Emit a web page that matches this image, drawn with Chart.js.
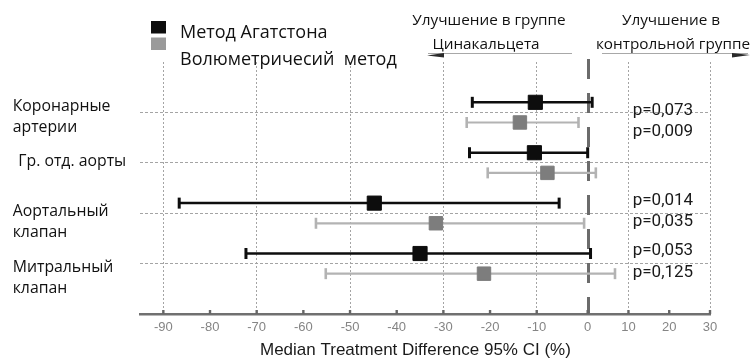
<!DOCTYPE html>
<html lang="ru">
<head>
<meta charset="utf-8">
<title>Median Treatment Difference</title>
<script src="https://cdn.jsdelivr.net/npm/chart.js@4.4.1/dist/chart.umd.min.js"></script>
<style>
  html, body { margin: 0; padding: 0; background: #ffffff; }
  #wrap { position: relative; width: 755px; height: 358px; }
</style>
</head>
<body>
<div id="wrap"><canvas id="forest" width="755" height="358"></canvas></div>
<script>
// ---- data ----
const categoryLines = [['Коронарные', 'артерии'], ['Гр. отд. аорты'], ['Аортальный', 'клапан'], ['Митральный', 'клапан']];
const seriesNames = ['Метод Агатстона', 'Волюметричесий  метод'];

const agatstonMedian = [-10.3, -10.5, -44.8, -35.0];
const agatstonLow    = [-23.8, -24.4, -86.6, -72.3];
const agatstonHigh   = [1.1, 0.0, -5.6, 0.7];

const volumeMedian = [-13.6, -7.9, -31.6, -21.3];
const volumeLow    = [-25.0, -20.5, -57.3, -55.2];
const volumeHigh   = [-1.8, 2.0, -0.7, 6.7];

const agatstonP = ['p=0,073', null, 'p=0,014', 'p=0,053'];
const volumeP   = ['p=0,009', null, 'p=0,035', 'p=0,125'];

const xTicks = [-90, -80, -70, -60, -50, -40, -30, -20, -10, 0, 10, 20, 30];
const xAxisTitle = 'Median Treatment Difference 95% CI (%)';
const headerLeft = ['Улучшение в группе', 'Цинакальцета'];
const headerRight = ['Улучшение в', 'контрольной группе'];

// ---- layout / style ----
const X_MIN = -95, X_MAX = 30;
// the axis is drawn with a break: [value, share of the axis width]
const X_BREAKS = [[-95, 0], [-10, 0.696], [0, 0.7854], [30, 1]];
const ROW_SHIFT = 0.2;
const BLACK = '#0d0d0d';
const GRAY_LINE = '#b3b3b3';
const GRAY_BOX = '#7d7d7d';
const GRAY_KEY = '#9a9a9a';
const RU_FONT = '"Open Sans", "Noto Sans", sans-serif';

// piecewise linear axis
class BrokenLinearScale extends Chart.LinearScale {
  static id = 'brokenLinear';
  _toDecimal(value) {
    const b = X_BREAKS;
    let i = 0;
    while (i < b.length - 2 && value > b[i + 1][0]) i++;
    const [v0, f0] = b[i], [v1, f1] = b[i + 1];
    return f0 + (value - v0) / (v1 - v0) * (f1 - f0);
  }
  getPixelForValue(value) {
    if (value === null || value === undefined || isNaN(value)) return NaN;
    return this.getPixelForDecimal(this._toDecimal(value));
  }
  getValueForPixel(pixel) {
    const f = this.getDecimalForPixel(pixel);
    const b = X_BREAKS;
    let i = 0;
    while (i < b.length - 2 && f > b[i + 1][1]) i++;
    const [v0, f0] = b[i], [v1, f1] = b[i + 1];
    return v0 + (f - f0) / (f1 - f0) * (v1 - v0);
  }
}
Chart.register(BrokenLinearScale);

function ciDataset(lo, hi, row, color, lineW, capW) {
  return {
    type: 'scatter',
    data: [{ x: lo, y: row }, { x: hi, y: row }],
    showLine: true,
    borderColor: color,
    borderWidth: lineW,
    pointStyle: 'line',
    pointRotation: 90,
    pointRadius: 5.5,
    pointBorderWidth: capW,
    pointBorderColor: color,
    pointBackgroundColor: color,
    clip: false
  };
}

const datasets = [
  {
    label: seriesNames[0],
    type: 'scatter',
    data: agatstonMedian.map((v, i) => ({ x: v, y: i + 1 - ROW_SHIFT })),
    pointStyle: 'rect',
    pointRadius: 10,
    pointBorderWidth: 1,
    backgroundColor: BLACK,
    borderColor: BLACK
  },
  {
    label: seriesNames[1],
    type: 'scatter',
    data: volumeMedian.map((v, i) => ({ x: v, y: i + 1 + ROW_SHIFT })),
    pointStyle: 'rect',
    pointRadius: 9.5,
    pointBorderWidth: 1,
    backgroundColor: GRAY_BOX,
    borderColor: GRAY_BOX
  }
];
agatstonMedian.forEach((_, i) => {
  datasets.push(ciDataset(agatstonLow[i], agatstonHigh[i], i + 1 - ROW_SHIFT, BLACK, 2.5, 3));
  datasets.push(ciDataset(volumeLow[i], volumeHigh[i], i + 1 + ROW_SHIFT, GRAY_LINE, 2.2, 2.6));
});

function isGridTick(v) {
  return v !== 0 && ((v + 90) % 20 === 0);
}

function put(ctx, str, x, y, font, color, align) {
  ctx.font = font;
  ctx.fillStyle = color;
  ctx.textAlign = align || 'left';
  ctx.textBaseline = 'alphabetic';
  ctx.fillText(str, x, y);
}

const decor = {
  id: 'decor',
  beforeDatasetsDraw(chart) {
    const { ctx, chartArea, scales: { x } } = chart;
    const px = Math.round(x.getPixelForValue(0)) + 0.5;
    ctx.save();
    ctx.strokeStyle = '#6b6b6b';
    ctx.lineWidth = 3;
    ctx.setLineDash([20, 14]);
    ctx.beginPath();
    ctx.moveTo(px, chartArea.top - 3);
    ctx.lineTo(px, chartArea.bottom);
    ctx.stroke();
    ctx.restore();
  },
  afterDraw(chart) {
    const { ctx, chartArea, scales: { x, y } } = chart;
    ctx.save();

    // small tick stubs on the axis line
    ctx.fillStyle = '#666666';
    xTicks.forEach(v => {
      const px = x.getPixelForValue(v);
      ctx.fillRect(px - 1.2, chartArea.bottom - 4, 2.4, 4);
    });

    // key
    ctx.fillStyle = BLACK;
    ctx.fillRect(151, 21, 15, 12.5);
    ctx.fillStyle = GRAY_KEY;
    ctx.fillRect(151, 37.5, 15, 12.5);
    put(ctx, seriesNames[0], 180, 37.5, '18px ' + RU_FONT, '#111111');
    put(ctx, seriesNames[1], 180, 64.5, '18px ' + RU_FONT, '#111111');

    // headers over the plot
    const hFont = '15.3px ' + RU_FONT;
    put(ctx, headerLeft[0], 489, 25, hFont, '#111111', 'center');
    put(ctx, headerLeft[1], 486, 48.5, hFont, '#111111', 'center');
    put(ctx, headerRight[0], 671, 25, hFont, '#111111', 'center');
    put(ctx, headerRight[1], 673, 48.5, hFont, '#111111', 'center');

    // direction arrows
    ctx.strokeStyle = '#a8a8a8';
    ctx.lineWidth = 1;
    ctx.beginPath();
    ctx.moveTo(428, 53.5); ctx.lineTo(572, 53.5);
    ctx.moveTo(602, 53.5); ctx.lineTo(748, 53.5);
    ctx.stroke();
    ctx.fillStyle = '#2a2a2a';
    ctx.beginPath();
    ctx.moveTo(427, 55.5); ctx.lineTo(444, 53); ctx.lineTo(444, 57.5); ctx.closePath();
    ctx.moveTo(750, 55); ctx.lineTo(732, 53); ctx.lineTo(732, 57.5); ctx.closePath();
    ctx.fill();

    // row labels
    const labelDy = [-1.8, 3.2, 2.5, 8.7];
    const labelX = [12.7, 18.3, 12.7, 12.7];
    categoryLines.forEach((lines, i) => {
      const base = y.getPixelForValue(i + 1) + labelDy[i];
      lines.forEach((t, k) => put(ctx, t, labelX[i], base + k * 21, '15.8px ' + RU_FONT, '#111111'));
    });

    // p-values
    const pNudgeA = [12.2, 0, 1.7, 1.2];
    const pNudgeV = [13.8, 0, 3.0, 3.6];
    const pFont = '17px Roboto, "Liberation Sans", sans-serif';
    agatstonP.forEach((p, i) => {
      if (p) put(ctx, p, 632.7, y.getPixelForValue(i + 1 - ROW_SHIFT) + pNudgeA[i], pFont, '#1a1a1a');
    });
    volumeP.forEach((p, i) => {
      if (p) put(ctx, p, 632.7, y.getPixelForValue(i + 1 + ROW_SHIFT) + pNudgeV[i], pFont, '#1a1a1a');
    });

    // axis title
    put(ctx, xAxisTitle, 260, 355, '17px "Liberation Sans", Arial, sans-serif', '#1a1a1a');

    ctx.restore();
  }
};

new Chart(document.getElementById('forest'), {
  type: 'scatter',
  data: { datasets },
  options: {
    responsive: false,
    animation: false,
    events: [],
    layout: { padding: { left: 140, right: 45, top: 62, bottom: 0 } },
    plugins: {
      legend: { display: false },
      tooltip: { enabled: false },
      title: { display: false }
    },
    scales: {
      x: {
        type: 'brokenLinear',
        position: 'bottom',
        min: X_MIN,
        max: X_MAX,
        afterBuildTicks: s => { s.ticks = xTicks.map(v => ({ value: v })); },
        afterFit: s => { s.height = 44; },
        grid: {
          drawTicks: false,
          lineWidth: 1,
          color: c => (c.tick && isGridTick(c.tick.value)) ? '#a4a4a4' : 'rgba(0,0,0,0)'
        },
        border: { display: true, color: '#707070', width: 2.5, dash: [2, 2] },
        ticks: {
          autoSkip: false,
          maxRotation: 0,
          padding: 6,
          color: '#858585',
          font: { family: '"Liberation Sans", Arial, sans-serif', size: 13 },
          callback: v => String(v)
        }
      },
      y: {
        type: 'linear',
        reverse: true,
        min: 0,
        max: 5,
        afterBuildTicks: s => { s.ticks = categoryLines.map((_, i) => ({ value: i + 1 })); },
        afterFit: s => { s.width = 0; },
        ticks: { display: false },
        grid: { drawTicks: false, lineWidth: 1, color: '#a4a4a4' },
        border: { display: false, dash: [3, 2] }
      }
    }
  },
  plugins: [decor]
});
</script>
</body>
</html>
